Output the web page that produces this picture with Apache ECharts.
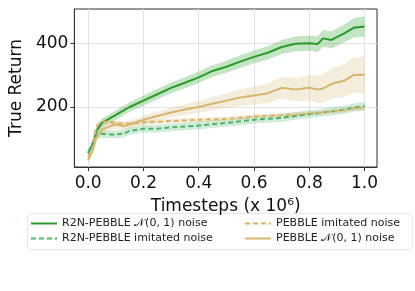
<!DOCTYPE html>
<html>
<head>
<meta charset="utf-8">
<script src="https://cdn.jsdelivr.net/npm/echarts@6/dist/echarts.min.js"></script>
<style>html,body{margin:0;padding:0;background:#fff;}#c{width:415px;height:291px;}</style>
</head>
<body>
<div id="c"></div>
<script>
// ---- data ----
const timesteps = [0, 0.015, 0.03, 0.05, 0.08, 0.1, 0.13, 0.15, 0.2, 0.25, 0.3, 0.35, 0.4, 0.45, 0.5, 0.55, 0.6, 0.65, 0.7, 0.75, 0.8, 0.83, 0.85, 0.88, 0.93, 0.96, 1.0];
const r2nNormal =      [55, 80, 125, 150, 165, 175, 190, 200, 220, 240, 260, 276, 293, 313, 326, 342, 357, 370, 388, 398, 400, 397, 415, 410, 432, 448, 452];
const r2nNormalSpread = [8, 10, 12, 14, 14, 15, 15, 15, 16, 16, 17, 17, 18, 18, 19, 20, 20, 21, 22, 23, 24, 25, 26, 27, 28, 30, 32];
const r2nImitated =    [58, 84, 112, 116, 114, 114, 117, 125, 132, 132, 136, 139, 142, 146, 150, 155, 160, 163, 166, 172, 178, 180, 183, 186, 192, 198, 202];
const r2nImitatedSpread = [8, 10, 12, 12, 12, 12, 12, 12, 12, 12, 12, 12, 12, 12, 12, 12, 12, 12, 12, 12, 12, 12, 12, 13, 13, 13, 14];
const pebbleImitated = [42, 70, 140, 155, 152, 150, 147, 148, 152, 154, 156, 158, 160, 161, 163, 166, 170, 172, 174, 176, 180, 181, 183, 186, 190, 195, 198];
const pebbleImitatedSpread = [6, 8, 8, 8, 8, 7, 7, 7, 7, 7, 7, 7, 7, 7, 7, 7, 7, 7, 7, 7, 7, 7, 7, 7, 7, 7, 8];
const pebbleNormal =   [34, 60, 105, 130, 140, 145, 140, 145, 160, 172, 183, 192, 200, 210, 220, 230, 236, 243, 260, 255, 260, 255, 258, 272, 284, 300, 301];
const pebbleNormalSpread = [6, 8, 10, 12, 12, 12, 12, 12, 13, 14, 15, 17, 19, 21, 23, 26, 28, 31, 34, 37, 40, 43, 45, 48, 52, 55, 57];
const xTicks = [0, 0.2, 0.4, 0.6, 0.8, 1.0];
const yTicks = [200, 400];

const names = {
  r2nN: 'R2N-PEBBLE 𝒩(0, 1) noise',
  r2nI: 'R2N-PEBBLE imitated noise',
  pebI: 'PEBBLE imitated noise',
  pebN: 'PEBBLE 𝒩(0, 1) noise'
};
const FONT = 'DejaVu Sans';

function pts(arr) { return timesteps.map((x, i) => [x, arr[i]]); }
function band(id, mean, spread, color) {
  const rows = timesteps.map((x, i) => [x, mean[i] - spread[i], mean[i] + spread[i]]);
  return {
    type: 'custom', name: id, silent: true, z: 1,
    data: rows,
    encode: { x: 0, y: [1, 2] },
    renderItem: function (params, api) {
      if (params.dataIndex !== 0) return null;
      const upper = rows.map(r => api.coord([r[0], r[2]]));
      const lower = rows.map(r => api.coord([r[0], r[1]])).reverse();
      return {
        type: 'polygon',
        shape: { points: upper.concat(lower) },
        style: { fill: color, stroke: null }
      };
    }
  };
}
function line(name, arr, color, dashed, width) {
  return { type: 'line', name: name, data: pts(arr), symbol: 'none', z: 5,
    lineStyle: { color: color, width: width, type: dashed ? [5, 3] : 'solid' },
    itemStyle: { color: color } };
}

const cGreen = '#2a9a2a', cGreenD = '#4db26a', cGold = '#d4b670', cGoldD = '#d9b466';

const series = [
  band('b1', r2nNormal, r2nNormalSpread, 'rgba(60,170,60,0.30)'),
  band('b2', r2nImitated, r2nImitatedSpread, 'rgba(70,180,100,0.25)'),
  band('b3', pebbleImitated, pebbleImitatedSpread, 'rgba(215,185,110,0.25)'),
  band('b4', pebbleNormal, pebbleNormalSpread, 'rgba(215,190,130,0.28)'),
  line(names.r2nN, r2nNormal, cGreen, false, 2),
  line(names.r2nI, r2nImitated, cGreenD, true, 2),
  line(names.pebI, pebbleImitated, cGoldD, true, 2),
  line(names.pebN, pebbleNormal, cGold, false, 2)
];

const legendBase = {
  orient: 'vertical', top: 213, itemWidth: 26, itemHeight: 12, itemGap: 4,
  itemStyle: { opacity: 0 },
  textStyle: { fontFamily: FONT, fontSize: 11, color: '#222' }, padding: 5
};

const chart = echarts.init(document.getElementById('c'), null, { renderer: 'canvas' });
chart.setOption({
  animation: false,
  backgroundColor: '#fff',
  grid: { left: 61, right: 38, top: 9, bottom: 124, show: true, borderColor: '#333', borderWidth: 1, containLabel: false },
  xAxis: {
    type: 'value', min: -0.05, max: 1.045,
    name: 'Timesteps (x 10⁶)', nameLocation: 'middle', nameGap: 31,
    nameTextStyle: { fontFamily: FONT, fontSize: 17, color: '#111' },
    axisLine: { show: true, onZero: false, lineStyle: { color: '#333', width: 1 } },
    axisTick: { show: true, customValues: xTicks, length: 4, lineStyle: { color: '#333' } },
    axisLabel: { customValues: xTicks, fontFamily: FONT, fontSize: 17, color: '#111', margin: 8,
      formatter: v => v.toFixed(1) },
    splitLine: { show: true, lineStyle: { color: '#e2e2e2', width: 1 } }
  },
  yAxis: {
    type: 'value', min: 12, max: 507,
    name: 'True Return', nameLocation: 'middle', nameGap: 48, nameRotate: 90,
    nameTextStyle: { fontFamily: FONT, fontSize: 17, color: '#111' },
    axisLine: { show: true, onZero: false, lineStyle: { color: '#333', width: 1 } },
    axisTick: { show: true, customValues: yTicks, length: 4, lineStyle: { color: '#333' } },
    axisLabel: { customValues: yTicks, fontFamily: FONT, fontSize: 17, color: '#111', margin: 6 },
    splitLine: { show: true, lineStyle: { color: '#e2e2e2', width: 1 } }
  },
  legend: [
    Object.assign({}, legendBase, { left: 25, data: [names.r2nN, names.r2nI] }),
    Object.assign({}, legendBase, { left: 239, data: [names.pebI, names.pebN] })
  ],
  graphic: [{
    type: 'rect', left: 27, top: 213, z: -1,
    shape: { width: 385, height: 36, r: 3 },
    style: { fill: '#fff', stroke: '#e6e6e6', lineWidth: 1 }
  }],
  series: series
});
</script>
</body>
</html>
